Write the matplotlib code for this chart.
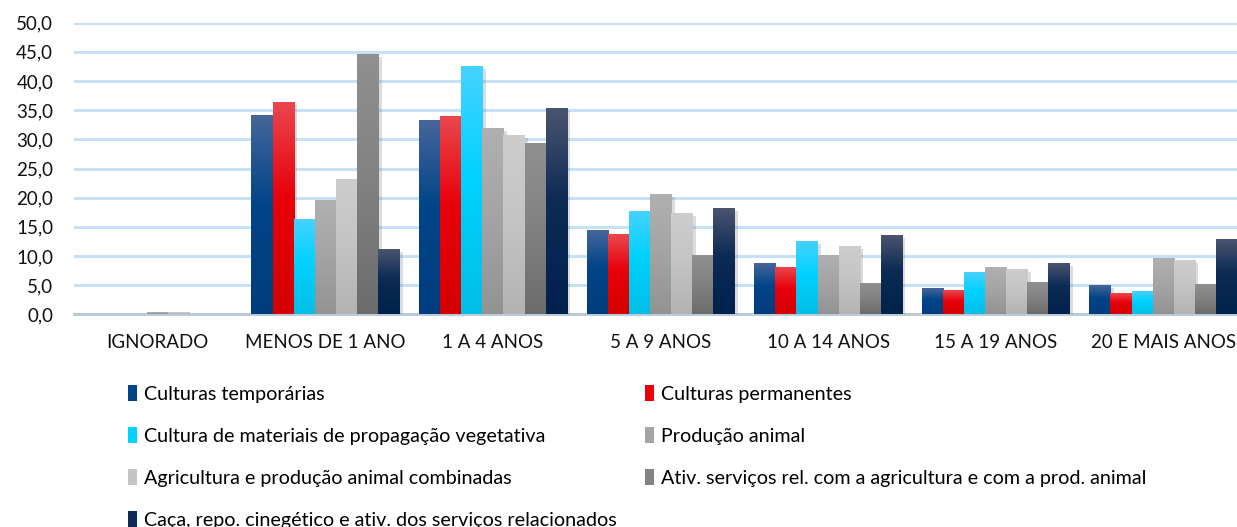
import numpy as np
import matplotlib
matplotlib.use("Agg")
import matplotlib.pyplot as plt
from matplotlib.colors import LinearSegmentedColormap
from matplotlib.patches import Patch
import matplotlib.patheffects as pe

plt.rcParams['font.family'] = ['Lato', 'DejaVu Sans']

# ---- dados ----
categorias = ["IGNORADO", "MENOS DE 1 ANO", "1 A 4 ANOS", "5 A 9 ANOS",
              "10 A 14 ANOS", "15 A 19 ANOS", "20 E MAIS ANOS"]

series_nomes = [
    "Culturas temporárias",
    "Culturas permanentes",
    "Cultura de materiais de propagação vegetativa",
    "Produção animal",
    "Agricultura e produção animal combinadas",
    "Ativ. serviços rel. com a agricultura e com a prod. animal",
    "Caça, repo. cinegético e ativ. dos serviços relacionados",
]

culturas_temporarias = [0.0, 34.0, 33.1, 14.3, 8.6, 4.3, 4.9]
culturas_permanentes = [0.0, 36.2, 33.8, 13.6, 7.9, 4.0, 3.5]
materiais_propagacao = [0.0, 16.2, 42.4, 17.5, 12.4, 7.1, 3.8]
producao_animal = [0.2, 19.5, 31.8, 20.5, 10.0, 7.9, 9.5]
agricultura_combinada = [0.2, 23.0, 30.6, 17.2, 11.5, 7.6, 9.1]
ativ_servicos = [0.0, 44.5, 29.2, 10.0, 5.2, 5.4, 5.0]
caca_repovoamento = [0.0, 11.0, 35.2, 18.1, 13.4, 8.6, 12.7]

valores = [culturas_temporarias, culturas_permanentes, materiais_propagacao,
           producao_animal, agricultura_combinada, ativ_servicos, caca_repovoamento]

# gradiente (topo, meio, base) de cada série
gradientes = [
    ("#46669a", "#004488", "#003d7e"),
    ("#ea474d", "#e8000b", "#d40000"),
    ("#46d2ff", "#00d2ff", "#00bfe6"),
    ("#b0b0b0", "#a5a5a5", "#939393"),
    ("#cdcdcd", "#c5c5c5", "#b3b3b3"),
    ("#909090", "#838383", "#6c6c6c"),
    ("#4a546f", "#0c2b55", "#00224d"),
]

fig = plt.figure(figsize=(12.37, 5.27), dpi=100)
ax = fig.add_axes([74 / 1237, (527 - 314.3) / 527, (1247 - 74) / 1237, 291.6 / 527])

x = np.arange(len(categorias))
n = len(valores)
largura = 0.126
grad = np.linspace(1, 0, 256).reshape(-1, 1)

for i, (vals, cores) in enumerate(zip(valores, gradientes)):
    cmap = LinearSegmentedColormap.from_list(f"g{i}", [(0, cores[2]), (0.55, cores[1]), (1, cores[0])])
    pos = x + (i - (n - 1) / 2) * largura
    barras = ax.bar(pos, vals, width=largura, color=cores[1], zorder=3, linewidth=0)
    for b in barras:
        b.set_path_effects([pe.SimplePatchShadow(offset=(2.5, -1.5), shadow_rgbFace='#777777', alpha=0.25),
                            pe.Normal()])
        h = b.get_height()
        if h <= 0:
            continue
        x0 = b.get_x()
        ax.imshow(grad, extent=[x0, x0 + b.get_width(), 0, h], cmap=cmap,
                  aspect='auto', zorder=4, interpolation='bilinear')

ax.set_xlim(-0.5, len(categorias) - 0.5)
ax.set_ylim(0, 50)
ax.set_aspect('auto')
ax.set_yticks(np.arange(0, 51, 5))
ax.set_yticklabels([f"{v:.1f}".replace(".", ",") for v in np.arange(0, 51, 5)])
ax.set_xticks(x)
ax.set_xticklabels(categorias)
ax.tick_params(axis='both', length=0, labelsize=13.5, colors='#111111')
ax.tick_params(axis='y', pad=15)
ax.tick_params(axis='x', pad=14)
ax.grid(axis='y', color='#c6e0f6', linewidth=2.2, zorder=0)
ax.set_axisbelow(True)
for s in ['top', 'right', 'left']:
    ax.spines[s].set_visible(False)
ax.spines['bottom'].set_color('#b8c8d6')
ax.spines['bottom'].set_linewidth(2)

# legenda em duas colunas, preenchida por linha
handles = [Patch(facecolor=c[1], edgecolor='none') for c in gradientes]
ordem = [0, 2, 4, 6, 1, 3, 5]
fig.legend([handles[k] for k in ordem], [series_nomes[k] for k in ordem],
           ncol=2, loc='upper left', bbox_to_anchor=(110 / 1237, 1 - 367 / 527),
           frameon=False, fontsize=14.2, handlelength=0.45, handleheight=0.9,
           handletextpad=0.35, labelspacing=1.22, columnspacing=1.45)

fig.savefig("out.png", dpi=100)
